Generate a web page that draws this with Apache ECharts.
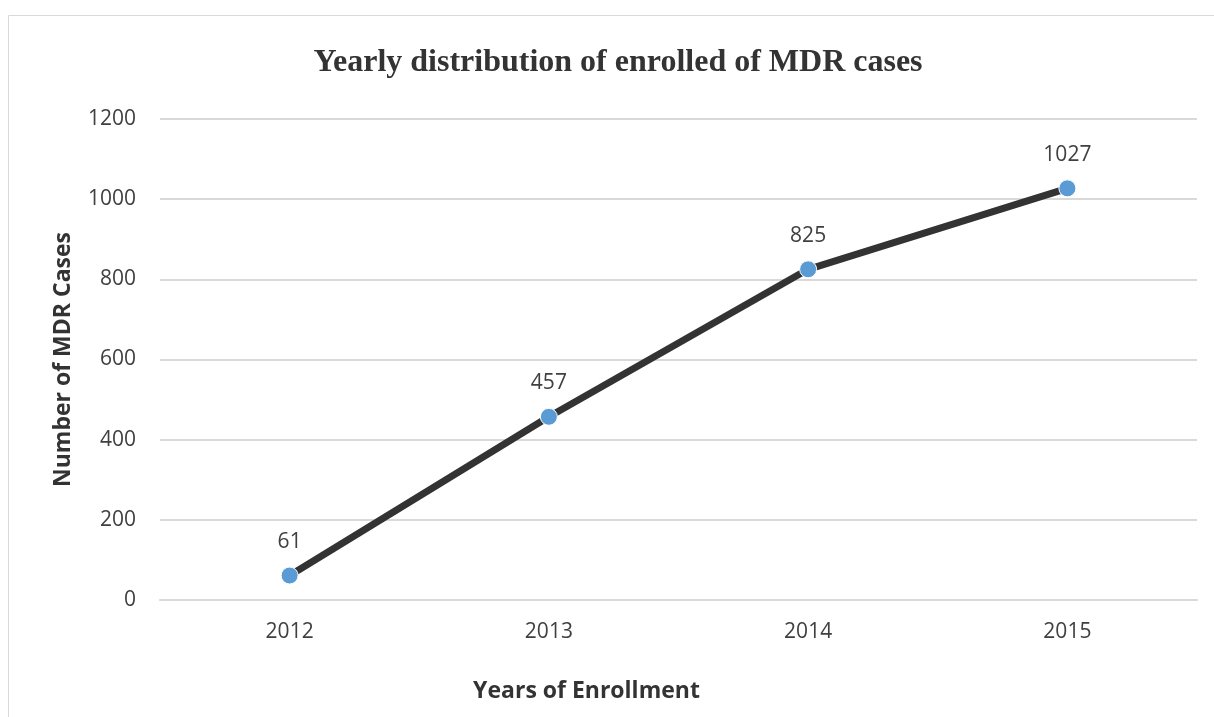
<!DOCTYPE html>
<html>
<head>
<meta charset="utf-8">
<script src="https://cdn.jsdelivr.net/npm/echarts@6/dist/echarts.min.js"></script>
<style>
  html, body { margin: 0; padding: 0; background: #fff; }
  #chart { width: 1214px; height: 717px; }
</style>
</head>
<body>
<div id="chart"></div>
<script>
// values
var years = ['2012', '2013', '2014', '2015'];
var cases = [61, 457, 825, 1027];

var myChart = echarts.init(document.getElementById('chart'));

var option = {
    backgroundColor: '#fff',
    animation: false,
    graphic: [{
        type: 'rect',
        shape: { x: 8.5, y: 15.5, width: 1220, height: 720 },
        style: { fill: 'none', stroke: '#d9d9d9', lineWidth: 1 },
        silent: true
    }],
    title: {
        text: 'Yearly distribution of enrolled of MDR cases',
        left: 613,
        top: 42,
        textAlign: 'center',
        textStyle: {
            fontFamily: 'Liberation Serif',
            fontWeight: 'bold',
            fontSize: 32,
            color: '#333'
        }
    },
    grid: { left: 160, right: 17, top: 119, bottom: 117 },
    xAxis: {
        type: 'category',
        data: years,
        boundaryGap: true,
        name: 'Years of Enrollment',
        nameLocation: 'middle',
        nameGap: 80,
        // the axis title sits left of the plot centre in the original
        nameTextStyle: { fontFamily: 'Open Sans', fontWeight: 'bold', fontSize: 23, color: '#333', padding: [0, 184, 0, 0] },
        axisLine: { lineStyle: { color: '#d9d9d9', width: 2 } },
        axisTick: { show: false },
        axisLabel: { fontFamily: 'Open Sans', fontSize: 21, color: '#404040', margin: 22 }
    },
    yAxis: {
        type: 'value',
        min: 0,
        max: 1200,
        interval: 200,
        name: 'Number of MDR Cases',
        nameLocation: 'middle',
        nameGap: 85,
        nameTextStyle: { fontFamily: 'Open Sans', fontWeight: 'bold', fontSize: 23, color: '#333' },
        axisLine: { show: false },
        axisTick: { show: false },
        axisLabel: {
            fontFamily: 'Open Sans',
            fontSize: 21,
            color: '#404040',
            margin: 24,
            formatter: function (v) { return String(v); }
        },
        splitLine: { lineStyle: { color: '#d9d9d9', width: 2 } }
    },
    series: [{
        type: 'line',
        data: cases,
        symbol: 'circle',
        symbolSize: 17,
        lineStyle: { color: '#333333', width: 7 },
        itemStyle: { color: '#5b9bd5', borderColor: '#fff', borderWidth: 1 },
        label: {
            show: true,
            position: 'top',
            distance: 14,
            fontFamily: 'Open Sans',
            fontSize: 21,
            color: '#404040'
        }
    }]
};
myChart.setOption(option);
</script>
</body>
</html>
